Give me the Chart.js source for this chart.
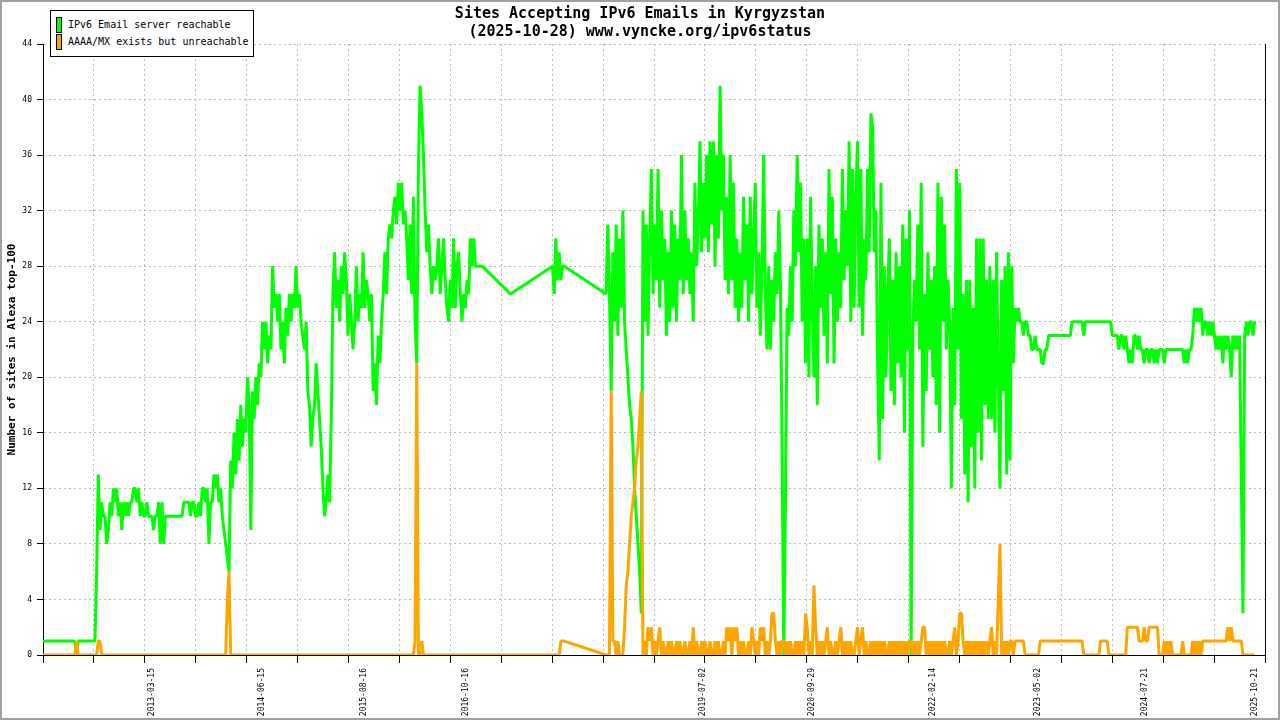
<!DOCTYPE html>
<html>
<head>
<meta charset="utf-8">
<script src="https://cdn.jsdelivr.net/npm/chart.js@4/dist/chart.umd.min.js"></script>
<style>
  html, body { margin: 0; padding: 0; background: #fff; }
  #wrap { position: relative; width: 1280px; height: 720px; overflow: hidden; }
  #c { position: absolute; left: 0; top: 0; }
  #frame { position: absolute; left: 0; top: 0; width: 1280px; height: 720px; box-sizing: border-box;
           border: 2px solid #a0a0a0; pointer-events: none; }
  #legend { position: absolute; left: 50px; top: 10px; width: 204px; height: 47px; box-sizing: border-box;
            border: 1px solid #000; background: #fff; font: 10px "DejaVu Sans Mono", monospace; color: #000; }
  .item { position: absolute; left: 5px; height: 16px; line-height: 16px; white-space: nowrap; }
  .sw { display: inline-block; width: 6px; height: 16px; box-sizing: border-box; border: 1px solid #000;
        vertical-align: top; margin-right: 6px; }
</style>
</head>
<body>
<div id="wrap">
  <canvas id="c" width="1280" height="720"></canvas>
  <div id="legend">
    <div class="item" style="top:6px"><span class="sw" style="background:#00ff00"></span>IPv6 Email server reachable</div>
    <div class="item" style="top:23px"><span class="sw" style="background:#ffa500"></span>AAAA/MX exists but unreachable</div>
  </div>
  <div id="frame"></div>
</div>
<script>
// one sample per week starting at this date; null = no data that week
const startDate = '2011-12-14';
const stepDays = 7;
const axisEndDate = '2025-12-04';

const tickDates = ['2013-03-15', '2014-06-15', '2015-08-16', '2016-10-16', '2019-07-02',
                   '2020-09-29', '2022-02-14', '2023-05-02', '2024-07-21', '2025-10-21'];

const yTicks = [0, 4, 8, 12, 16, 20, 24, 28, 32, 36, 40, 44];

const seriesNames = ['IPv6 Email server reachable', 'AAAA/MX exists but unreachable'];

// IPv6 Email server reachable
const reachable = [
  1,1,1,1,1,1,1,1,1,1,1,1,1,1,1,1,1,1,1,1, 0, 1,1,1,1,1,1,1,1,1,1,1,
  6,13,9,11,10,10,8,9,11,10,
  12,11,12,10,11,9,11,10,11,10,
  11,11,12,12,11,12,10,11,10,10,
  11,10,10,10,9,10,10,11,8,11,
  8,10,10,10,10,10,10,10,10,10,
  10,10,11,11,11,11,10,11,11,10,
  10,11,10,12,12,11,12,8,11,11,
  13,12,13,11,12,10,9,8,7,6,
  14,12,16,13,17,14,18,15,17,16,
  20,18,9,19,17,20,18,21,20,24,
  22,24,21,23,22,28,25,26,24,26,
  22,24,21,25,23,26,24,26,25,28,
  25,26,24,23,22,24,19,18,15,17,
  18,21,19,17,15,12,10,11,13,11,
  17,26,29,25,27,24,28,26,29,27,
  23,26,24,22,24,28,24,26,25,29,
  25,27,26,24,26,19,21,18,23,21,
  24,26,29,26,30,31,30,32,33,31,
  34,32,34,31,32,30,27,31,26,33,
  24,21,35,41,39,36,32,29,31,28,
  26,28,27,28,30,26,28,30,27,25,
  24,27,25,30,25,28,29,26,24,26,
  25,27,26,30,28,30,28,28,28,28,
  28,
  null,null,null,null,null,null,null,null,null,null,null,null,null,null,null,null,
  26,
  null,null,null,null,null,null,null,null,null,null,null,null,
  null,null,null,null,null,null,null,null,null,null,null,null,
  28,26,30,27,29,27,28,28,
  null,null,null,null,null,null,null,null,null,null,null,null,
  null,null,null,null,null,null,null,null,null,null,null,null,
  26,31,26,19,29,24,31,23,30,25,
  32,24,22,20,18,17,15,12,10,8,6,3,
  32,24,31,23,30,35,26,31,27,35,
  25,32,27,30,23,29,24,32,25,31,
  24,30,27,36,26,32,27,30,26,29,
  24,34,28,31,37,29,34,30,36,29,
  37,31,37,28,36,30,41,32,36,27,
  33,26,36,27,34,25,30,24,29,25,
  33,27,31,24,33,26,30,34,25,29,
  23,28,36,26,22,28,22,27,24,29,
  26,32,27,15,0,11,25,23,28,24,
  32,28,36,29,34,24,30,21,30,20,
  33,25,20,28,18,31,25,30,23,29,
  21,35,26,33,21,30,24,29,25,35,
  27,32,28,37,24,35,25,33,37,25,
  35,23,30,27,35,29,39,38,29,32,
  21,14,34,17,28,20,26,30,19,27,
  18,29,21,28,20,31,16,30,22,32,
  0,23,27,24,31,22,34,15,26,19,
  29,22,27,20,28,18,34,16,33,24,
  31,22,27,24,12,25,18,35,22,34,
  17,26,13,27,11,27,15,25,12,30,
  16,30,14,30,18,27,17,28,17,27,
  16,29,20,12,27,19,28,13,29,14,
  28,21,25,24,25,24,24,23,24,24,
  23,23,22,22,23,22,22,22,21,21,
  22,22,23,23,23,23,23,23,23,23,
  23,23,23,23,23,23,24,24,24,24,
  24,24,24,23,24,24,24,24,24,24,
  24,24,24,24,24,24,24,24,24,24,
  23,23,23,23,22,23,23,22,23,22,
  21,22,21,23,23,22,23,22,22,21,
  22,22,21,22,22,21,22,21,22,22,
  22,21,22,22,22,22,22,22,22,22,
  22,22,22,21,22,21,22,22,23,25,
  24,25,24,25,23,24,24,23,24,23,
  24,23,22,23,22,23,21,23,22,23,
  22,20,23,22,23,22,23,13,3,23,
  24,23,24,24,23,24
];

// AAAA/MX exists but unreachable
const unreachable = [
  0,0,0,0,0,0,0,0,0,0,0,0,0,0,0,0,0,0,0,0, 1, 0,0,0,0,0,0,0,0,0,0,0,0, 1,1,
  0,0,0,0,0,0,0,0,0,0,0,0,0,0,0,0,0,0,0,0,0,0,0,0,0,
  0,0,0,0,0,0,0,0,0,0,0,0,0,0,0,0,0,0,0,0,0,0,0,0,0,
  0,0,0,0,0,0,0,0,0,0,0,0,0,0,0,0,0,0,0,0,0,0,0,0,0,
  4,6,
  0,0,0,0,0,0,0,0,0,0,0,0,0,0,0,0,0,0,0,0,0,0,
  0,0,0,0,0,0,0,0,0,0,0,0,0,0,0,0,0,0,0,0,0,0,
  0,0,0,0,0,0,0,0,0,0,0,0,0,0,0,0,0,0,0,0,0,0,
  0,0,0,0,0,0,0,0,0,0,0,0,0,0,0,0,0,0,0,0,0,0,
  0,0,0,0,0,0,0,0,0,0,0,0,0,0,0,0,0,0,0,0,0,0,
  1,21,0,0,1,0,
  0,0,0,0,0,0,0,0,0,0,0,0,0,0,0,0,0,0,0,0,0,0,0,0,0,0,0,0,0,0,0,0,0,0,0,
  null,null,null,null,null,null,null,null,null,null,null,null,null,null,null,null,
  0,
  null,null,null,null,null,null,null,null,null,null,null,null,
  null,null,null,null,null,null,null,null,null,null,null,null,
  0,0,0,0,0,1,1,1,
  null,null,null,null,null,null,null,null,null,null,null,null,
  null,null,null,null,null,null,null,null,null,null,null,null,
  0,0,0,19,1,1,0,1,0,0,
  0,2,5,6,8,10,11,12,14,15,17,19,
  0,1,0,2,1,2,0,1,0,1,
  2,0,1,0,0,1,0,1,0,0,
  1,0,1,0,0,1,0,0,1,0,
  2,0,1,0,0,1,0,1,0,0,
  1,0,0,1,0,1,0,0,1,0,
  2,1,2,0,2,1,2,0,1,0,
  1,0,0,1,0,2,1,0,1,0,
  2,1,2,0,1,0,1,3,3,1,
  0,1,0,1,1,0,1,0,1,0,
  0,1,0,1,0,1,0,3,2,0,
  1,0,5,2,0,1,0,1,0,1,
  2,0,1,0,0,1,0,1,2,0,
  1,0,1,0,1,0,0,1,2,0,
  1,2,0,1,0,0,1,0,1,0,
  1,0,1,0,1,0,0,1,0,1,
  0,1,0,1,0,1,0,1,0,1,
  1,0,1,0,1,0,1,2,2,0,
  1,0,1,0,1,0,1,0,1,0,
  1,0,0,1,0,1,2,0,1,3,
  3,1,0,1,0,1,0,1,0,1,
  0,1,0,1,0,1,0,1,2,0,
  1,0,4,8,0,1,0,1,0,1,
  1,0,1,1,1,1,1,1,0,0,
  0,0,0,0,0,0,0,1,1,1,
  1,1,1,1,1,1,1,1,1,1,
  1,1,1,1,1,1,1,1,1,1,
  1,1,1,0,0,0,0,0,0,0,
  0,0,0,1,1,1,1,1,0,0,
  0,0,0,0,0,0,0,0,0,2,
  2,2,2,2,2,2,1,1,1,2,
  1,1,2,2,2,2,2,2,0,0,
  0,1,0,1,0,1,0,0,0,0,
  0,0,1,0,0,0,0,0,1,0,
  1,0,1,0,1,1,1,1,1,1,
  1,1,1,1,1,1,1,1,1,2,
  1,2,1,1,1,1,1,1,0,0,
  0,0,0,0,0,0
];

if (reachable.length !== unreachable.length) {
  throw new Error('length mismatch ' + reachable.length + ' vs ' + unreachable.length);
}

const dayMs = 86400000;
function dayOf(s) { return (Date.parse(s + 'T00:00:00Z') - Date.parse(startDate + 'T00:00:00Z')) / dayMs; }

function toPoints(values) {
  return values.map((v, i) => ({ x: i * stepDays, y: v }));
}

const xMax = dayOf(axisEndDate);
const gridCount = 24;
const gridValues = [];
for (let i = 0; i <= gridCount; i++) gridValues.push(xMax * i / gridCount);
const gridSet = new Set(gridValues);
const labelMap = new Map(tickDates.map(d => [dayOf(d), d]));

const mono = '"DejaVu Sans Mono", "Liberation Mono", monospace';
const gridGray = '#bbbbbb';

new Chart(document.getElementById('c'), {
  type: 'line',
  data: {
    datasets: [
      {
        label: seriesNames[0],
        data: toPoints(reachable),
        borderColor: '#00ff00',
        borderWidth: 3,
        pointRadius: 0,
        spanGaps: true,
        borderJoinStyle: 'bevel',
        order: 1
      },
      {
        label: seriesNames[1],
        data: toPoints(unreachable),
        borderColor: '#ffa500',
        borderWidth: 3,
        pointRadius: 0,
        spanGaps: true,
        borderJoinStyle: 'bevel',
        order: 0
      }
    ]
  },
  options: {
    responsive: false,
    animation: false,
    events: [],
    layout: { padding: 0 },
    plugins: {
      legend: { display: false },
      tooltip: { enabled: false },
      title: {
        display: true,
        text: ['Sites Accepting IPv6 Emails in Kyrgyzstan', '(2025-10-28) www.vyncke.org/ipv6status'],
        color: '#000',
        font: { family: mono, size: 15, weight: 'bold', lineHeight: 1.2 },
        padding: { top: 5, bottom: 3 }
      }
    },
    scales: {
      x: {
        type: 'linear',
        min: 0,
        max: xMax,
        afterBuildTicks: axis => {
          const all = gridValues.concat([...labelMap.keys()]);
          all.sort((a, b) => a - b);
          axis.ticks = all.map(v => ({ value: v }));
        },
        ticks: {
          autoSkip: false,
          minRotation: 90,
          maxRotation: 90,
          padding: 5,
          color: '#000',
          font: { family: mono, size: 8 },
          callback: v => labelMap.has(v) ? labelMap.get(v) : ''
        },
        grid: {
          color: ctx => (ctx.tick && gridSet.has(ctx.tick.value)) ? gridGray : 'rgba(0,0,0,0)',
          tickColor: ctx => (ctx.tick && gridSet.has(ctx.tick.value)) ? '#000' : 'rgba(0,0,0,0)',
          tickLength: 8,
          lineWidth: 1
        },
        border: { display: true, color: '#000', width: 1, dash: [2, 3] },
        afterFit: s => { s.height = 65; }
      },
      y: {
        min: 0,
        max: 44,
        afterBuildTicks: axis => { axis.ticks = yTicks.map(v => ({ value: v })); },
        ticks: { color: '#000', padding: 5, font: { family: mono, size: 8 } },
        grid: { color: gridGray, tickColor: '#000', tickLength: 6, lineWidth: 1 },
        border: { display: true, color: '#000', width: 1, dash: [2, 3] },
        title: {
          display: true,
          text: 'Number of sites in Alexa top-100',
          color: '#000',
          font: { family: mono, size: 11, weight: 'bold' },
          padding: { top: 6, bottom: 0 }
        },
        afterFit: s => { s.width = 43; }
      },
      yRight: {
        position: 'right',
        min: 0,
        max: 44,
        ticks: { display: false },
        grid: { drawOnChartArea: false, drawTicks: false },
        border: { display: true, color: '#000', width: 1 },
        afterFit: s => { s.width = 15; }
      }
    }
  }
});
</script>
</body>
</html>
